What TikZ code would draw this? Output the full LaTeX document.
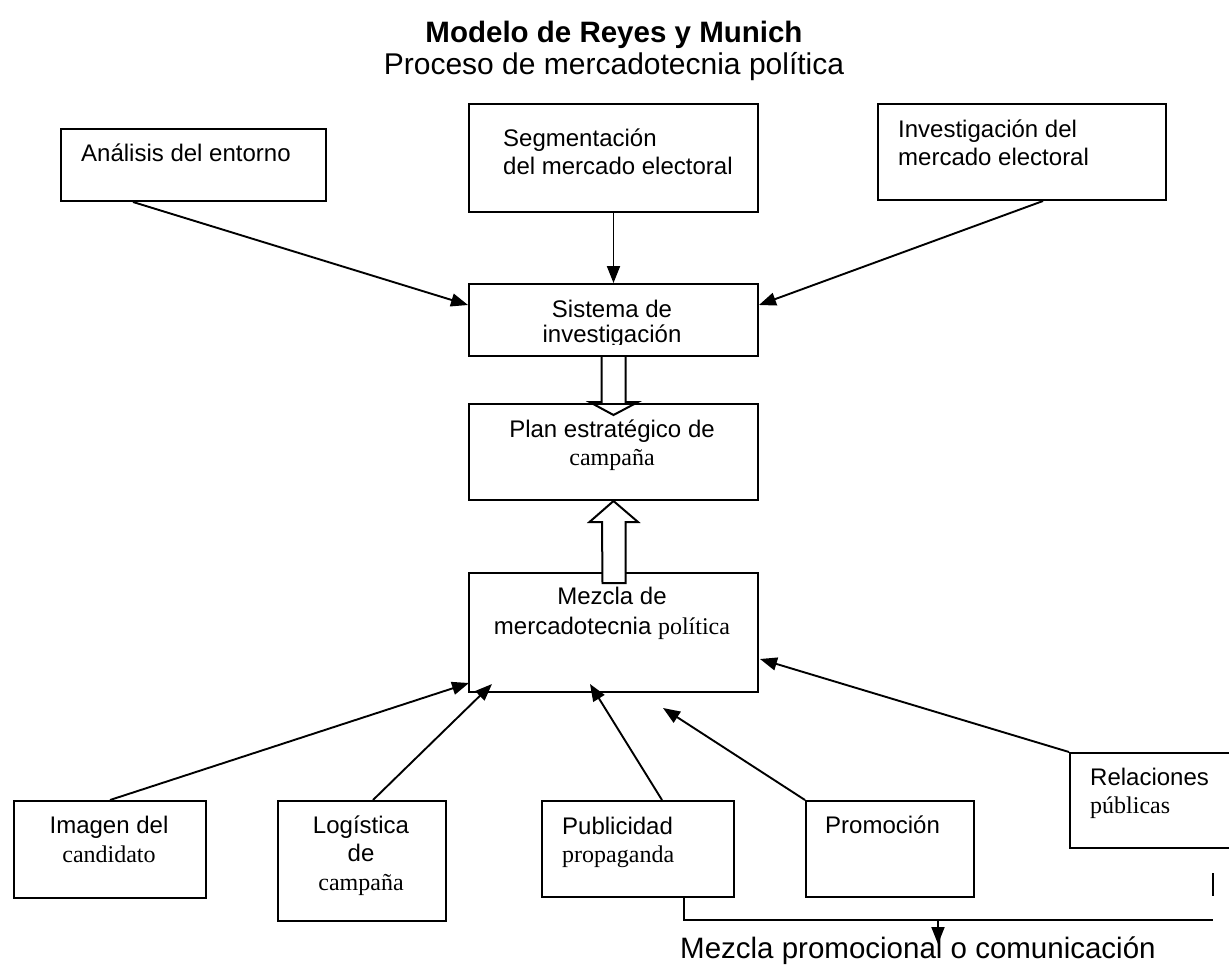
\documentclass[tikz,border=0pt]{standalone}
\usepackage{fontspec}
\setmainfont{Liberation Sans}
\newfontfamily\tnr{Liberation Serif}
\usetikzlibrary{arrows.meta,calc}
\begin{document}
\begin{tikzpicture}[x=1pt,y=-1pt,
  box/.style={draw,line width=2pt,inner sep=0pt,anchor=north west},
  txt/.style={inner sep=0pt,font=\fontsize{24}{28}\selectfont},
  conn/.style={line width=1.9pt,-{Triangle[length=17pt,width=13pt]}},
  plain/.style={line width=1.9pt},
  hollow/.style={draw,line width=2pt,line join=miter}]
\useasboundingbox (0,0) rectangle (1229,967);
% titles
\node[inner sep=0pt,anchor=base,font=\bfseries\fontsize{29.5}{33}\selectfont] (title) at (614,42) {Modelo de Reyes y Munich};
\node[inner sep=0pt,anchor=base,font=\fontsize{30}{34}\selectfont] (subtitle) at (614,74) {Proceso de mercadotecnia política};
% boxes
\node[box,minimum width=265pt,minimum height=72pt] (ana) at (60,128) {};
\node[box,minimum width=289pt,minimum height=108pt] (seg) at (468,103) {};
\node[box,minimum width=288pt,minimum height=96pt] (inv) at (877,103) {};
\node[box,minimum width=289pt,minimum height=72pt] (sis) at (468,283) {};
\node[box,minimum width=289pt,minimum height=96pt] (plan) at (468,403) {};
\node[box,minimum width=289pt,minimum height=119pt] (mez) at (468,572) {};
\node[box,minimum width=192pt,minimum height=97pt] (img) at (13,800) {};
\node[box,minimum width=168pt,minimum height=120pt] (log) at (277,800) {};
\node[box,minimum width=192pt,minimum height=96pt] (pub) at (541,800) {};
\node[box,minimum width=168pt,minimum height=96pt] (pro) at (805,800) {};
\node[box,minimum width=190pt,minimum height=95pt] (rel) at (1069,752) {};
% texts
\node[txt,anchor=base west] (tana) at (81,161) {Análisis del entorno};
\node[txt,anchor=base west] (tseg1) at (503,146) {Segmentación};
\node[txt,anchor=base west] (tseg2) at (503,174) {del mercado electoral};
\node[txt,anchor=base west] (tinv1) at (898,137) {Investigación del};
\node[txt,anchor=base west] (tinv2) at (898,165) {mercado electoral};
\begin{scope}
\clip (469,284) rectangle (756,344);
\node[txt,anchor=base] (tsis1) at (612,317) {Sistema de};
\node[txt,anchor=base] (tsis2) at (612,342) {investigación};
\end{scope}
\node[txt,anchor=base] (tplan1) at (612,437) {Plan estratégico de};
\node[txt,anchor=base] (tplan2) at (612,465) {\tnr campaña};
\node[txt,anchor=base] (tmez1) at (612,604) {Mezcla de};
\node[txt,anchor=base] (tmez2) at (612,634) {mercadotecnia {\tnr política}};
\node[txt,anchor=base] (timg1) at (109,833) {Imagen del};
\node[txt,anchor=base] (timg2) at (109,862) {\tnr candidato};
\node[txt,anchor=base] (tlog1) at (361,833) {Logística};
\node[txt,anchor=base] (tlog2) at (361,861) {de};
\node[txt,anchor=base] (tlog3) at (361,890) {\tnr campaña};
\node[txt,anchor=base west] (tpub1) at (562,834) {Publicidad};
\node[txt,anchor=base west] (tpub2) at (562,862) {\tnr propaganda};
\node[txt,anchor=base west] (tpro) at (825,833) {Promoción};
\node[txt,anchor=base west] (trel1) at (1090,785) {Relaciones};
\node[txt,anchor=base west] (trel2) at (1090,813) {\tnr públicas};
\node[inner sep=0pt,anchor=base west,font=\fontsize{29.5}{33}\selectfont] (tmix) at (680,958) {Mezcla promocional o comunicación};
% top connectors
\draw[conn] ($(ana.south west)+(73,0)$) -- ($(sis.north west)+(0,22)$);
\draw[conn] (seg.south) -- (sis.north);
\draw[conn] ($(inv.south west)+(166,0)$) -- ($(sis.north east)+(0,22)$);
% hollow arrow down
\draw[hollow] ($(sis.south)+(-12,0)$) -- ++(0,45) -- ++(-12,0) -- ($(plan.north)+(0,12)$) -- ($(sis.south)+(24.5,45)$) -- ++(-12.5,0) -- ($(sis.south)+(12,0)$);
% hollow arrow up
\filldraw[hollow,fill=white] (plan.south) -- ++(24.5,21) -- ++(-12.5,0) -- ($(mez.north)+(12,11)$) -- ++(-23,0) -- ($(plan.south)+(-11.5,21)$) -- ++(-12.5,0) -- cycle;
% bottom connectors
\draw[conn] (img.north) -- ($(mez.south west)+(1,-10)$);
\draw[conn] ($(log.north west)+(96,0)$) -- ($(mez.south west)+(24,-9)$);
\draw[conn] ($(pub.north west)+(121,0)$) -- ($(mez.south west)+(122,-9)$);
\draw[conn] (pro.north west) -- ($(mez.south west)+(195,15)$);
\draw[conn] (rel.north west) -- ($(mez.south east)+(1,-34)$);
% bracket
\coordinate (brR) at (1213,920);
\coordinate (tickT) at (1213,873);
\coordinate (tickB) at (1213,896);
\coordinate (brA) at (938,920);
\draw[plain] ($(pub.south west)+(143,0)$) |- (brR);
\draw[plain] (tickT) -- (tickB);
\draw[conn] (brA) -- ($(tmix.base west)+(258,-14)$);
\end{tikzpicture}
\end{document}
